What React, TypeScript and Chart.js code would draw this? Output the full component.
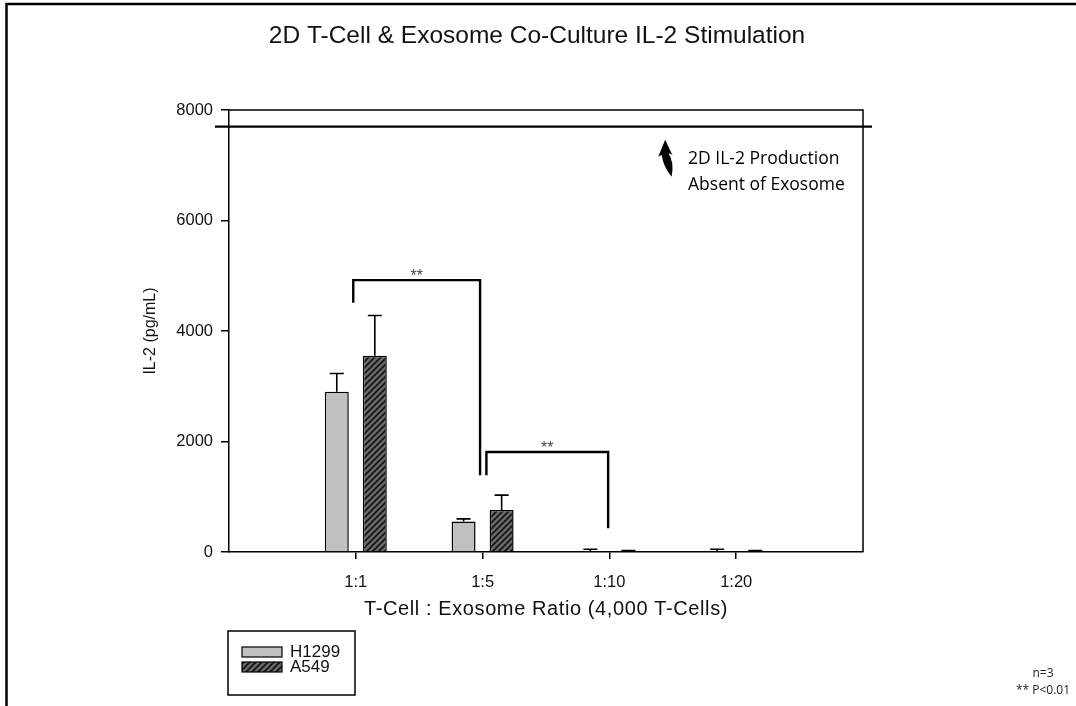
import { useEffect, useRef } from 'react';
import { Chart, registerables } from 'chart.js';

Chart.register(...registerables);

// Category slots: an empty slot at each end keeps the four ratios off the frame.
const ratioLabels = ['', '1:1', '1:5', '1:10', '1:20', ''];
const h1299Mean = [null, 2900, 550, 12, 10, null];
const h1299Sem = [null, 330, 50, 38, 40, null];
const a549Mean = [null, 3550, 760, 20, 18, null];
const a549Sem = [null, 730, 270, 8, 8, null];
const yTickValues = [0, 2000, 4000, 6000, 8000];
const noExosomeLevel = 7700;

// Significance brackets, in category index (x) and pg/mL (y).
const bracketFrom = [0.98, 2.03];
const bracketTo = [1.98, 2.99];
const bracketTop = [4920, 1810];
const bracketLeftFoot = [4510, 1390];
const bracketRightFoot = [1390, 430];
const bracketLabel = ['**', '**'];

// Note above the no-exosome line: arrow anchor and two text lines.
const noteX = 3.44;
const noteTextX = 3.62;
const noteArrowTop = 7460;
const noteLines = ['2D IL-2 Production', 'Absent of Exosome'];
const noteLineY = [7110, 6650];

const legendNames = ['H1299', 'A549'];
const footnotes = ['n=3', '** P<0.01'];

const AXIS_FONT = '"Liberation Sans", Arial, sans-serif';
const NOTE_FONT = '"Open Sans", "Noto Sans", sans-serif';

function makeHatch(): CanvasPattern | string {
  const s = 6;
  const c = document.createElement('canvas');
  c.width = s;
  c.height = s;
  const g = c.getContext('2d');
  if (!g) return '#555';
  g.fillStyle = '#6a6a6a';
  g.fillRect(0, 0, s, s);
  g.strokeStyle = '#111';
  g.lineWidth = 1.6;
  g.beginPath();
  g.moveTo(-1, s + 1);
  g.lineTo(s + 1, -1);
  g.moveTo(-1, 1);
  g.lineTo(1, -1);
  g.moveTo(s - 1, s + 1);
  g.lineTo(s + 1, s - 1);
  g.stroke();
  const p = g.createPattern(c, 'repeat');
  return p || '#555';
}

const decorations = {
  id: 'decorations',
  afterDatasetsDraw(chart: any) {
    const ctx: CanvasRenderingContext2D = chart.ctx;
    const xs = chart.scales.x;
    const ys = chart.scales.y;
    const area = chart.chartArea;
    ctx.save();

    // error bars (upper half only)
    const sems = [h1299Sem, a549Sem];
    const means = [h1299Mean, a549Mean];
    ctx.strokeStyle = '#000';
    ctx.lineWidth = 1.6;
    for (let d = 0; d < 2; d++) {
      const meta = chart.getDatasetMeta(d);
      meta.data.forEach((el: any, i: number) => {
        const m = means[d][i];
        const e = sems[d][i];
        if (m == null || e == null) return;
        const yTop = ys.getPixelForValue(m + e);
        ctx.beginPath();
        ctx.moveTo(el.x, el.y);
        ctx.lineTo(el.x, yTop);
        ctx.moveTo(el.x - 7, yTop);
        ctx.lineTo(el.x + 7, yTop);
        ctx.stroke();
      });
    }

    // plot frame (top and right sides)
    ctx.lineWidth = 1.5;
    ctx.beginPath();
    ctx.moveTo(area.left, area.top);
    ctx.lineTo(area.right, area.top);
    ctx.lineTo(area.right, area.bottom);
    ctx.stroke();

    // no-exosome reference line
    const yRef = ys.getPixelForValue(noExosomeLevel);
    ctx.lineWidth = 2.2;
    ctx.beginPath();
    ctx.moveTo(area.left - 14, yRef);
    ctx.lineTo(area.right + 9, yRef);
    ctx.stroke();

    // significance brackets
    ctx.lineWidth = 2.4;
    ctx.lineJoin = 'miter';
    for (let b = 0; b < bracketFrom.length; b++) {
      const x0 = xs.getPixelForValue(bracketFrom[b]);
      const x1 = xs.getPixelForValue(bracketTo[b]);
      const yt = ys.getPixelForValue(bracketTop[b]);
      ctx.beginPath();
      ctx.moveTo(x0, ys.getPixelForValue(bracketLeftFoot[b]));
      ctx.lineTo(x0, yt);
      ctx.lineTo(x1, yt);
      ctx.lineTo(x1, ys.getPixelForValue(bracketRightFoot[b]));
      ctx.stroke();
      ctx.fillStyle = '#444';
      ctx.font = `16px ${AXIS_FONT}`;
      ctx.textAlign = 'center';
      ctx.textBaseline = 'alphabetic';
      ctx.fillText(bracketLabel[b], (x0 + x1) / 2, yt + 1);
    }

    // curved arrow pointing at the reference line
    const ax = xs.getPixelForValue(noteX);
    const ay = ys.getPixelForValue(noteArrowTop);
    ctx.fillStyle = '#000';
    ctx.beginPath();
    ctx.moveTo(ax, ay);
    ctx.lineTo(ax + 7.5, ay + 16);
    ctx.quadraticCurveTo(ax + 5, ay + 13, ax + 3.5, ay + 14);
    ctx.quadraticCurveTo(ax + 9, ay + 22, ax + 6.5, ay + 37);
    ctx.quadraticCurveTo(ax - 2, ay + 27, ax - 3.5, ay + 15);
    ctx.lineTo(ax - 7, ay + 17);
    ctx.closePath();
    ctx.fill();

    ctx.font = `17.5px ${NOTE_FONT}`;
    ctx.textAlign = 'left';
    ctx.textBaseline = 'middle';
    const tx = xs.getPixelForValue(noteTextX);
    noteLines.forEach((t, i) => ctx.fillText(t, tx, ys.getPixelForValue(noteLineY[i])));

    ctx.restore();
  },
  afterDraw(chart: any) {
    const ctx: CanvasRenderingContext2D = chart.ctx;
    const area = chart.chartArea;
    const W = chart.width;
    const H = chart.height;
    ctx.save();

    // outer frame: top and left edges
    ctx.strokeStyle = '#000';
    ctx.lineWidth = 2.5;
    ctx.beginPath();
    ctx.moveTo(W, 4);
    ctx.lineTo(6.5, 4);
    ctx.lineTo(6.5, H);
    ctx.stroke();

    // title
    ctx.fillStyle = '#111';
    ctx.textAlign = 'center';
    ctx.textBaseline = 'middle';
    ctx.font = `24.5px ${AXIS_FONT}`;
    ctx.fillText('2D T-Cell & Exosome Co-Culture IL-2 Stimulation', 537, 36);

    // axis titles
    ctx.save();
    ctx.font = `20px ${AXIS_FONT}`;
    (ctx as any).letterSpacing = '0.6px';
    ctx.fillText('T-Cell : Exosome Ratio (4,000 T-Cells)', (area.left + area.right) / 2, 609);
    ctx.restore();
    ctx.font = `16px ${AXIS_FONT}`;
    ctx.save();
    ctx.translate(151, (area.top + area.bottom) / 2);
    ctx.rotate(-Math.PI / 2);
    ctx.fillText('IL-2 (pg/mL)', 0, 0);
    ctx.restore();

    // legend box
    const lx = 228;
    const ly = 631;
    ctx.lineWidth = 1.5;
    ctx.strokeRect(lx, ly, 127, 64);
    const fills = [chart.data.datasets[0].backgroundColor, chart.data.datasets[1].backgroundColor];
    ctx.font = `17px ${AXIS_FONT}`;
    ctx.textAlign = 'left';
    legendNames.forEach((name, i) => {
      const sy = ly + 16 + i * 15;
      ctx.fillStyle = fills[i];
      ctx.fillRect(lx + 14, sy, 40, 10);
      ctx.lineWidth = 1.2;
      ctx.strokeRect(lx + 14, sy, 40, 10);
      ctx.fillStyle = '#111';
      ctx.fillText(name, lx + 62, sy + 5.5);
    });

    // footnotes
    ctx.font = `12px ${NOTE_FONT}`;
    ctx.textAlign = 'center';
    ctx.fillStyle = '#222';
    footnotes.forEach((t, i) => ctx.fillText(t, 1043, 674 + i * 17));

    ctx.restore();
  },
};

export default function App() {
  const ref = useRef<HTMLCanvasElement | null>(null);

  useEffect(() => {
    const canvas = ref.current;
    if (!canvas) return;
    const hatch = makeHatch();
    const edgeTick = (c: any) => (c.index === 0 || c.index === ratioLabels.length - 1 ? 'rgba(0,0,0,0)' : '#000');
    const chart = new Chart(canvas, {
      type: 'bar',
      data: {
        labels: ratioLabels,
        datasets: [
          {
            label: legendNames[0],
            data: h1299Mean as any,
            backgroundColor: '#c0c0c0',
            borderColor: '#000',
            borderWidth: 1.5,
            categoryPercentage: 0.6,
            barPercentage: 0.63,
          },
          {
            label: legendNames[1],
            data: a549Mean as any,
            backgroundColor: hatch as any,
            borderColor: '#000',
            borderWidth: 1.5,
            categoryPercentage: 0.6,
            barPercentage: 0.63,
          },
        ],
      },
      options: {
        responsive: false,
        animation: false,
        layout: { padding: { top: 110, right: 213, left: 0, bottom: 0 } },
        plugins: {
          legend: { display: false },
          title: { display: false },
          tooltip: { enabled: false },
        },
        scales: {
          x: {
            offset: false,
            grid: {
              offset: false,
              drawOnChartArea: false,
              drawTicks: true,
              tickLength: 7,
              color: edgeTick,
              lineWidth: 1.5,
            },
            border: { display: true, color: '#000', width: 1.5 },
            ticks: {
              autoSkip: false,
              maxRotation: 0,
              padding: 14,
              color: '#111',
              font: { family: AXIS_FONT, size: 16.5 },
            },
            afterFit: (s: any) => {
              s.height = 154;
            },
          },
          y: {
            min: 0,
            max: 8000,
            afterBuildTicks: (s: any) => {
              s.ticks = yTickValues.map((v) => ({ value: v }));
            },
            grid: { drawOnChartArea: false, drawTicks: true, tickLength: 8, color: '#000', lineWidth: 1.5 },
            border: { display: true, color: '#000', width: 1.5 },
            ticks: {
              padding: 8,
              color: '#111',
              font: { family: AXIS_FONT, size: 16.5 },
              callback: (v: any) => String(v),
            },
            afterFit: (s: any) => {
              s.width = 229;
            },
          },
        },
      },
      plugins: [decorations],
    });
    return () => chart.destroy();
  }, []);

  return (
    <div style={{ position: 'fixed', left: 0, top: 0, width: 1076, height: 706, background: '#fff' }}>
      <canvas ref={ref} width={1076} height={706} style={{ display: 'block' }} />
    </div>
  );
}
